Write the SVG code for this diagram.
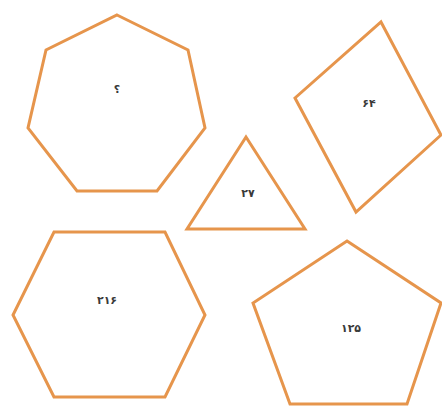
<svg xmlns="http://www.w3.org/2000/svg" width="442" height="406" viewBox="0 0 442 406">
<style>
.s{fill:#fff;stroke:#E6954C;stroke-width:3;stroke-linejoin:miter}
.t{font-family:"DejaVu Sans","Noto Sans",sans-serif;font-size:11px;fill:#3a3a3a;text-anchor:middle;font-weight:bold;letter-spacing:2px}
</style>
<rect width="442" height="406" fill="#fff"/>
<g id="heptagon"><polygon class="s" points="117,15 188,50 205,128 157,191 77,191 28,128 46,50"/><text class="t" x="117" y="93">؟</text></g>
<g id="square"><polygon class="s" points="381,22 441,135 356,212 295,98"/><text class="t" x="369" y="107">۶۴</text></g>
<g id="triangle"><polygon class="s" points="246,137 305,229 187,229"/><text class="t" x="248" y="197">۲۷</text></g>
<g id="hexagon"><polygon class="s" points="54,232 165,232 205,315 165,397 54,397 13,315"/><text class="t" x="107" y="304">۲۱۶</text></g>
<g id="pentagon"><polygon class="s" points="347,241 441,303 407,404 290,404 253,303"/><text class="t" x="351" y="332">۱۲۵</text></g>
<g id="connectors"></g>
</svg>
